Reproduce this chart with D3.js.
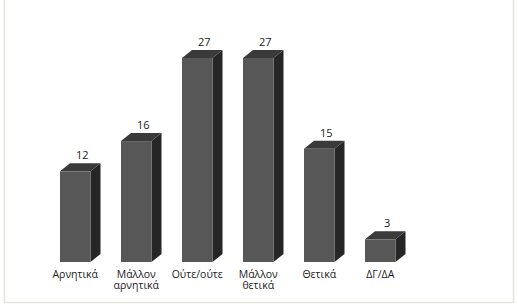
<!DOCTYPE html>
<html>
<head>
<meta charset="utf-8">
<script src="https://cdn.jsdelivr.net/npm/d3@7"></script>
<style>
  body { margin: 0; background: #fff; }
  text { font-family: "Open Sans", "Noto Sans", sans-serif; font-size: 10.5px; fill: #222; }
</style>
</head>
<body>
<script>
// categories and values
var categories = ["Αρνητικά", "Μάλλον αρνητικά", "Ούτε/ούτε", "Μάλλον θετικά", "Θετικά", "ΔΓ/ΔΑ"];
var labelLines = [["Αρνητικά"], ["Μάλλον", "αρνητικά"], ["Ούτε/ούτε"], ["Μάλλον", "θετικά"], ["Θετικά"], ["ΔΓ/ΔΑ"]];
var values = [12, 16, 27, 27, 15, 3];

var svg_width = 518;
var svg_height = 306;

// depth of the 3d effect
var dx = 10;
var dy = 8;

var svg = d3.select('body')
            .append('svg')
            .attr('width', svg_width)
            .attr('height', svg_height);

// thin frame around the picture (left, right, bottom)
var frame = svg.append('path')
               .attr('d', 'M4.5,0 V302.5 H513.5 V0')
               .attr('fill', 'none')
               .attr('stroke', '#e3e5dc')
               .attr('stroke-width', 1.5);

var x = d3.scaleBand()
          .domain(categories)
          .range([44.75, 410.75])
          .paddingInner(0.5)
          .paddingOuter(0.25);

var y = d3.scaleLinear()
          .domain([0, 27])
          .range([262, 58]);

var bw = x.bandwidth();

var bars = svg.selectAll('.bar')
              .data(values)
              .enter()
              .append('g')
              .attr('class', 'bar');

// side face
bars.append('path')
    .attr('fill', '#262626')
    .attr('d', function(d, i) {
      var x0 = x(categories[i]) + bw, yt = y(d), yb = y(0);
      return 'M' + x0 + ',' + yt + 'L' + (x0 + dx) + ',' + (yt - dy) +
             'L' + (x0 + dx) + ',' + (yb - dy) + 'L' + x0 + ',' + yb + 'Z';
    });

// top face
bars.append('path')
    .attr('fill', '#3a3a3a')
    .attr('d', function(d, i) {
      var x0 = x(categories[i]), yt = y(d);
      return 'M' + x0 + ',' + yt + 'L' + (x0 + dx) + ',' + (yt - dy) +
             'L' + (x0 + bw + dx) + ',' + (yt - dy) + 'L' + (x0 + bw) + ',' + yt + 'Z';
    });

// front face
bars.append('rect')
    .attr('x', function(d, i) { return x(categories[i]); })
    .attr('y', function(d) { return y(d); })
    .attr('width', bw)
    .attr('height', function(d) { return y(0) - y(d); })
    .attr('fill', '#575757');

// value labels
bars.append('text')
    .attr('x', function(d, i) { return x(categories[i]) + bw / 2 + dx / 2 + 2; })
    .attr('y', function(d) { return y(d) - dy - 4; })
    .attr('text-anchor', 'middle')
    .style('font-size', '11px')
    .text(function(d) { return d; });

// category labels, one text per line
labelLines.forEach(function(lines, i) {
  lines.forEach(function(line, j) {
    svg.append('text')
       .attr('class', 'cat')
       .attr('text-anchor', 'middle')
       .attr('x', x(categories[i]) + bw / 2)
       .attr('y', 278 + j * 11)
       .text(line);
  });
});
</script>
</body>
</html>
